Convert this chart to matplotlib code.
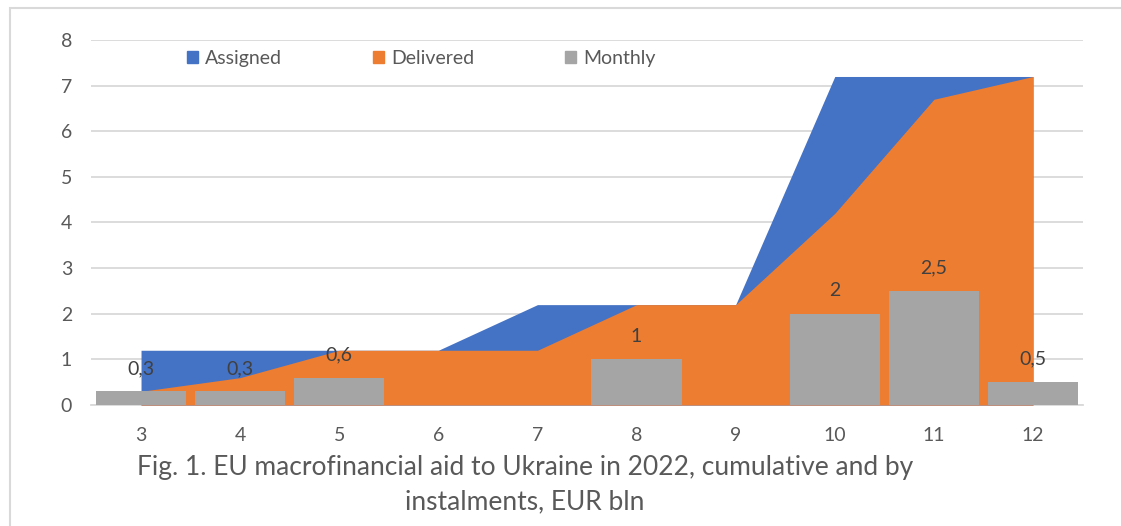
import numpy as np
import matplotlib
matplotlib.use('Agg')
import matplotlib.pyplot as plt
from matplotlib.patches import Patch, Rectangle

plt.rcParams['font.family'] = ['Lato', 'DejaVu Sans']

# Data (EUR bln)
months = [3, 4, 5, 6, 7, 8, 9, 10, 11, 12]
assigned = [1.2, 1.2, 1.2, 1.2, 2.2, 2.2, 2.2, 7.2, 7.2, 7.2]
delivered = [0.3, 0.6, 1.2, 1.2, 1.2, 2.2, 2.2, 4.2, 6.7, 7.2]
monthly = [0.3, 0.3, 0.6, 0, 0, 1, 0, 2, 2.5, 0.5]

BLUE = '#4472C4'
ORANGE = '#ED7D31'
GRAY = '#A5A5A5'
TXT = '#595959'

fig = plt.figure(figsize=(11.21, 5.26), dpi=100)
ax = fig.add_axes([0.0816, 0.2300, 0.8841, 0.6940])

ax.fill_between(months, 0, assigned, color=BLUE, lw=0, zorder=2)
ax.fill_between(months, 0, delivered, color=ORANGE, lw=0, zorder=3)
ax.bar(months, monthly, width=0.91, color=GRAY, zorder=4)

for m, v in zip(months, monthly):
    if v > 0:
        ax.annotate(str(v).replace('.', ','), (m, v), xytext=(0, 16.5),
                    textcoords='offset points', ha='center', va='center',
                    fontsize=14, color='#404040', zorder=5)

ax.set_xlim(2.5, 12.5)
ax.set_ylim(0, 8)
ax.set_xticks(months)
ax.set_yticks(range(0, 9))
ax.grid(axis='y', color='#D9D9D9', lw=1.3, zorder=0)
ax.set_axisbelow(True)
for s in ['top', 'right', 'left']:
    ax.spines[s].set_visible(False)
ax.spines['bottom'].set_color('#D9D9D9')
ax.spines['bottom'].set_linewidth(1.3)
ax.spines['bottom'].set_zorder(1)
ax.tick_params(length=0, labelsize=14, labelcolor=TXT)
ax.tick_params(axis='x', pad=16)
ax.tick_params(axis='y', pad=14)

handles = [Patch(color=BLUE), Patch(color=ORANGE), Patch(color=GRAY)]
ax.legend(handles, ['Assigned', 'Delivered', 'Monthly'], ncol=3,
          loc='center left', bbox_to_anchor=(0.151, 0.889), bbox_transform=fig.transFigure,
          frameon=False, fontsize=14, labelcolor=TXT,
          handlelength=0.6, handleheight=0.6, handletextpad=0.35, columnspacing=4.65)

fig.text(0.468, 0.078, 'Fig. 1. EU macrofinancial aid to Ukraine in 2022, cumulative and by\ninstalments, EUR bln',
         ha='center', va='center', fontsize=19.0, color=TXT, linespacing=1.48)

# outer frame
fig.patches.append(Rectangle((10 / 1121, -0.1), 1.2, 1 - 8 / 526 + 0.1, transform=fig.transFigure,
                             fill=False, ec='#D9D9D9', lw=1.5))

fig.savefig('out.png', dpi=100)
